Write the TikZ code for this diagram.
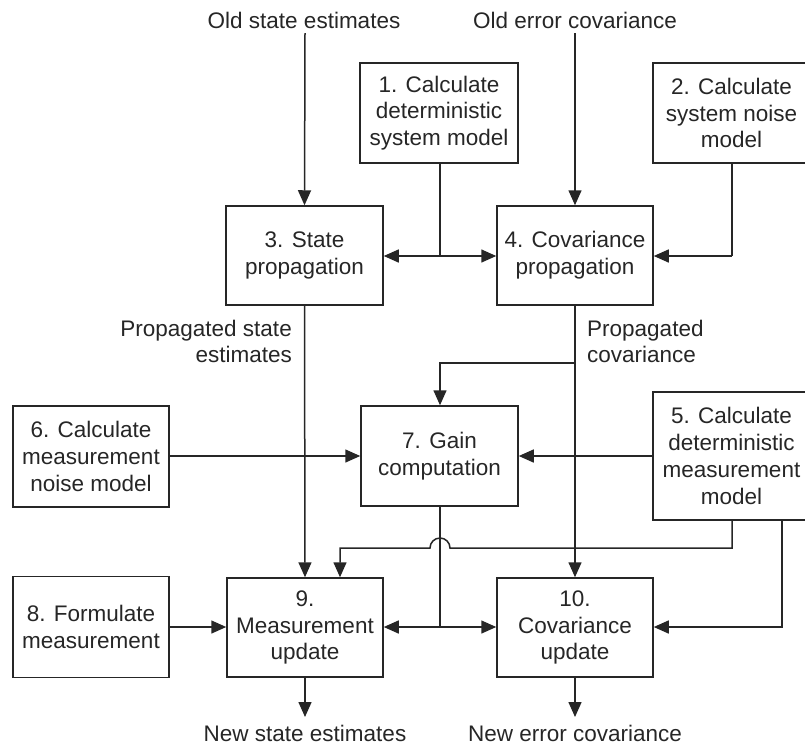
\documentclass[tikz,border=0pt]{standalone}
\usepackage{fontspec}
\setmainfont{Liberation Sans}
\usetikzlibrary{arrows.meta}
\definecolor{ink}{HTML}{262626}
\tikzset{
  blk/.style={draw=ink, line width=1.5pt, inner sep=0pt, align=center, text=ink,
    font=\fontsize{22.5}{26.8}\selectfont},
  lbl/.style={inner sep=0pt, text=ink, font=\fontsize{22.5}{26.8}\selectfont},
  conn/.style={draw=ink, line width=1.5pt},
  arr/.style={conn, -{Triangle[length=15pt,width=13pt]}}
}
\begin{document}
\begin{tikzpicture}[x=1pt,y=-1pt]
\useasboundingbox (0,0) rectangle (805,745);
% boxes
\node[blk, minimum width=158pt, minimum height=100pt] (b1) at (439,113) {1. Calculate\\deterministic\\system model};
\node[blk, minimum width=157pt, minimum height=100pt] (b2) at (731.5,113) {2. Calculate\\system noise\\model};
\node[blk, minimum width=157pt, minimum height=99pt] (b3) at (304.5,255.5) {3. State\\propagation};
\node[blk, minimum width=156pt, minimum height=99pt] (b4) at (575,255.5) {4. Covariance\\propagation};
\node[blk, minimum width=157pt, minimum height=128pt] (b5) at (731.5,456) {5. Calculate\\deterministic\\measurement\\model};
\node[blk, minimum width=156pt, minimum height=101pt] (b6) at (91,456.5) {6. Calculate\\measurement\\noise model};
\node[blk, minimum width=157pt, minimum height=100pt] (b7) at (439.5,456) {7. Gain\\computation};
\node[blk, minimum width=156pt, minimum height=101pt] (b8) at (91,627) {8. Formulate\\measurement};
\node[blk, minimum width=156pt, minimum height=99pt] (b9) at (305,627.5) {9.\\Measurement\\update};
\node[blk, minimum width=156pt, minimum height=99pt] (b10) at (575,627.5) {10.\\Covariance\\update};
% labels
\node[lbl] (oldx) at (304,20) {Old state estimates};
\node[lbl] (oldp) at (575,20) {Old error covariance};
\node[lbl, anchor=east, align=right] (px) at (292,341.5) {Propagated state\\estimates};
\node[lbl, anchor=west, align=left] (pp) at (587,341.5) {Propagated\\covariance};
\node[lbl] (newx) at (305,733) {New state estimates};
\node[lbl] (newp) at (575,733) {New error covariance};
% coordinates
\coordinate (s1) at (305,33);
\coordinate (s2) at (575,33);
\coordinate (j1) at (440,256);
\coordinate (k2) at (732,256);
\coordinate (j4) at (575,363);
\coordinate (k4) at (440,363);
\coordinate (m5) at (732,548);
\coordinate (h1) at (450,548);
\coordinate (k5) at (340,548);
\coordinate (n5) at (782,627);
\coordinate (j7) at (440,627);
\coordinate (e9) at (305,717);
\coordinate (e10) at (575,717);
% connectors
\draw[arr] (s1) -- (b3.north);
\draw[arr] (s2) -- (b4.north);
\draw[conn] (b1.south -| j1) -- (j1);
\draw[arr] (j1) -- (b3.east |- j1);
\draw[arr] (j1) -- (b4.west |- j1);
\draw[conn] (b2.south -| k2) -- (k2);
\draw[arr] (k2) -- (b4.east |- k2);
\draw[arr] (b3.south) -- (b9.north);
\draw[arr] (b4.south) -- (b10.north);
\draw[arr] (j4) -- (k4) -- (b7.north -| k4);
\draw[arr] (b6.east |- 0,456) -- (b7.west |- 0,456);
\draw[arr] (b5.west |- 0,456) -- (b7.east |- 0,456);
\draw[arr] (b5.south -| m5) -- (m5) -- (h1) arc[start angle=0, end angle=180, radius=10pt] -- (k5) -- (b9.north -| k5);
\draw[arr] (b5.south -| n5) -- (n5) -- (b10.east |- n5);
\draw[conn] (b7.south -| j7) -- (j7);
\draw[arr] (j7) -- (b9.east |- j7);
\draw[arr] (j7) -- (b10.west |- j7);
\draw[arr] (b8.east |- j7) -- (b9.west |- j7);
\draw[arr] (b9.south) -- (e9);
\draw[arr] (b10.south) -- (e10);
\end{tikzpicture}
\end{document}
